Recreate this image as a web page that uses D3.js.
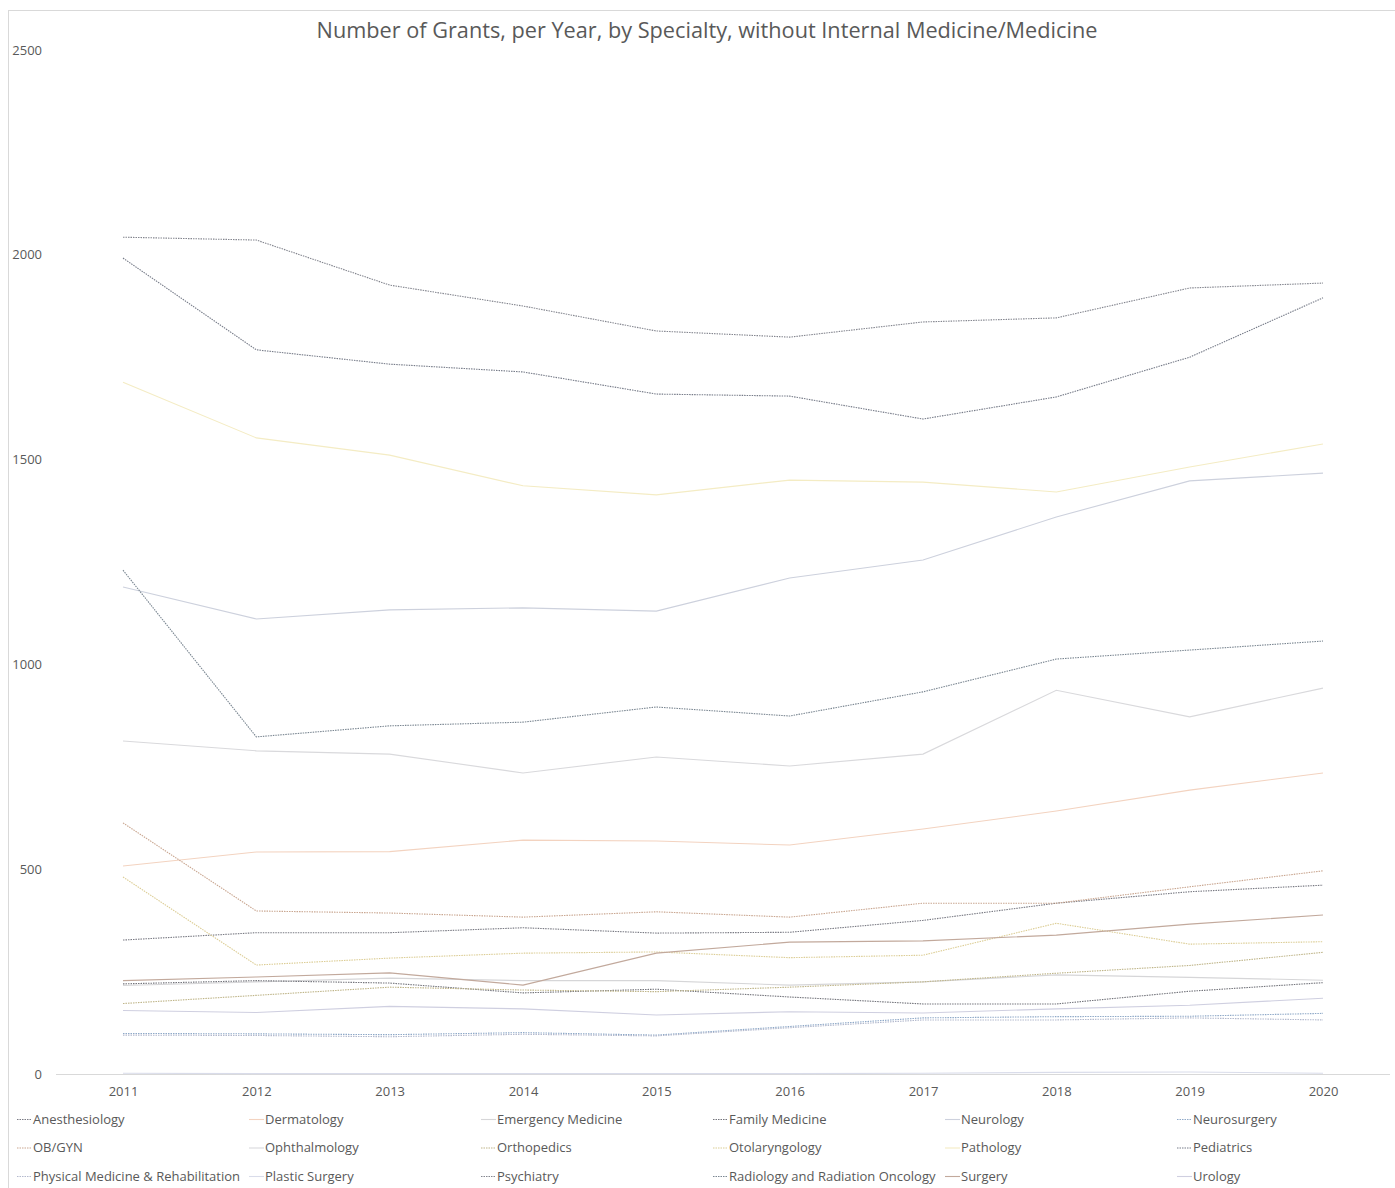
<!DOCTYPE html>
<html>
<head>
<meta charset="utf-8">
<script src="https://cdn.jsdelivr.net/npm/d3@7"></script>
<style>
  html, body { margin: 0; padding: 0; background: #fff; }
  svg { display: block; }
  text { font-family: "Open Sans", "Liberation Sans", sans-serif; fill: #595959; }
</style>
</head>
<body>
<svg id="chart" width="1395" height="1188"></svg>
<script>
// ---- Data ----
const years = [2011, 2012, 2013, 2014, 2015, 2016, 2017, 2018, 2019, 2020];
const yTicks = [0, 500, 1000, 1500, 2000, 2500];

const anesthesiology   = [327, 345, 345, 357, 344, 346, 375, 417, 445, 461];
const dermatology      = [508, 542, 543, 571, 569, 559, 598, 642, 693, 735];
const emergencyMed     = [216, 225, 234, 228, 228, 217, 225, 242, 236, 229];
const familyMedicine   = [220, 228, 222, 198, 207, 188, 171, 171, 202, 223];
const neurology        = [1189, 1111, 1133, 1138, 1130, 1211, 1255, 1360, 1448, 1467];
const neurosurgery     = [99, 98, 96, 101, 95, 116, 137, 140, 141, 148];
const obgyn            = [613, 398, 393, 383, 396, 383, 417, 417, 457, 496];
const ophthalmology    = [813, 789, 781, 735, 774, 752, 781, 937, 872, 942];
const orthopedics      = [172, 192, 212, 205, 201, 212, 225, 246, 265, 297];
const otolaryngology   = [481, 266, 283, 295, 298, 284, 290, 368, 317, 323];
const pathology        = [1689, 1553, 1511, 1436, 1414, 1450, 1445, 1421, 1482, 1538];
const pediatrics       = [1992, 1768, 1733, 1714, 1660, 1655, 1599, 1653, 1750, 1895];
const physicalMedRehab = [95, 94, 91, 97, 93, 113, 132, 132, 137, 132];
const plasticSurgery   = [2, 1, 1, 1, 1, 1, 2, 4, 5, 2];
const psychiatry       = [2043, 2036, 1926, 1875, 1814, 1799, 1836, 1846, 1919, 1931];
const radiology        = [1230, 823, 850, 859, 896, 874, 933, 1013, 1035, 1057];
const surgery          = [228, 237, 247, 217, 295, 322, 325, 339, 366, 388];
const urology          = [155, 150, 165, 159, 144, 152, 149, 159, 168, 185];

const seriesNames = [
  "Anesthesiology", "Dermatology", "Emergency Medicine", "Family Medicine", "Neurology", "Neurosurgery",
  "OB/GYN", "Ophthalmology", "Orthopedics", "Otolaryngology", "Pathology", "Pediatrics",
  "Physical Medicine & Rehabilitation", "Plastic Surgery", "Psychiatry", "Radiology and Radiation Oncology", "Surgery", "Urology"
];
const seriesValues = [
  anesthesiology, dermatology, emergencyMed, familyMedicine, neurology, neurosurgery,
  obgyn, ophthalmology, orthopedics, otolaryngology, pathology, pediatrics,
  physicalMedRehab, plasticSurgery, psychiatry, radiology, surgery, urology
];
const seriesColors = [
  "#7a7b84", "#f3d3c0", "#d6d6d8", "#74757c", "#cdd1dd", "#8fa9c8",
  "#c9a690", "#d9d9dc", "#bfb589", "#dccd95", "#f4ecc4", "#777c89",
  "#b3b9cd", "#d9dcea", "#84868f", "#7b8792", "#c2a99c", "#cfcfe0"
];
const seriesDash = [
  "1.5,1", "none", "none", "1.5,1", "none", "1.5,1",
  "1.5,1", "none", "1.5,1", "1.5,1", "none", "1.5,1",
  "1.5,1", "none", "1.5,1", "1.5,1", "none", "none"
];

// ---- Layout ----
const svg = d3.select("#chart");

// chart border
svg.append("rect")
  .attr("x", 8.5).attr("y", 10.5)
  .attr("width", 1400).attr("height", 1200)
  .attr("fill", "none").attr("stroke", "#d9d9d9").attr("stroke-width", 1);

const x = d3.scalePoint().domain(years).range([123, 1323]);
const y = d3.scaleLinear().domain([0, 2500]).range([1074, 50]);

// title
svg.append("text")
  .attr("x", 707).attr("y", 38)
  .attr("text-anchor", "middle")
  .style("font-size", "21.7px")
  .text("Number of Grants, per Year, by Specialty, without Internal Medicine/Medicine");

// y axis labels
const yAxis = d3.axisLeft(y).tickValues(yTicks).tickSize(0).tickPadding(0).tickFormat(d3.format("d"));
const gy = svg.append("g").attr("transform", "translate(42,0)").call(yAxis);
gy.select(".domain").remove();
gy.selectAll("text").style("font-size", "13px").style("font-family", "'Open Sans', sans-serif").attr("fill", "#595959").attr("dy", "0.32em");

// x axis
const xAxis = d3.axisBottom(x).tickSize(0).tickPadding(13).tickFormat(d3.format("d"));
const gx = svg.append("g").attr("transform", "translate(0,1074)").call(xAxis);
gx.select(".domain").remove();
gx.selectAll("text").style("font-size", "13px").style("font-family", "'Open Sans', sans-serif").attr("fill", "#595959");
svg.append("line")
  .attr("x1", 56).attr("x2", 1390)
  .attr("y1", y(0) + 0.5).attr("y2", y(0) + 0.5)
  .attr("stroke", "#d9d9d9").attr("stroke-width", 1);

// lines
const line = d3.line().x((d, i) => x(years[i])).y(d => y(d));
seriesValues.forEach((vals, i) => {
  svg.append("path")
    .datum(vals)
    .attr("d", line)
    .attr("fill", "none")
    .attr("stroke", seriesColors[i])
    .attr("stroke-width", 1.1)
    .attr("stroke-dasharray", seriesDash[i]);
});

// legend
const legCols = 6, colW = 232, legX0 = 17, legY0 = 1119, rowH = 28.5;
seriesNames.forEach((name, i) => {
  const c = i % legCols, r = Math.floor(i / legCols);
  const gx0 = legX0 + c * colW, gy0 = legY0 + r * rowH;
  svg.append("line")
    .attr("x1", gx0).attr("x2", gx0 + 15)
    .attr("y1", gy0 + 0.5).attr("y2", gy0 + 0.5)
    .attr("stroke", seriesColors[i]).attr("stroke-width", 1.1)
    .attr("stroke-dasharray", seriesDash[i]);
  svg.append("text")
    .attr("x", gx0 + 16).attr("y", gy0)
    .attr("dy", "0.35em")
    .style("font-size", "13px")
    .text(name);
});
</script>
</body>
</html>
